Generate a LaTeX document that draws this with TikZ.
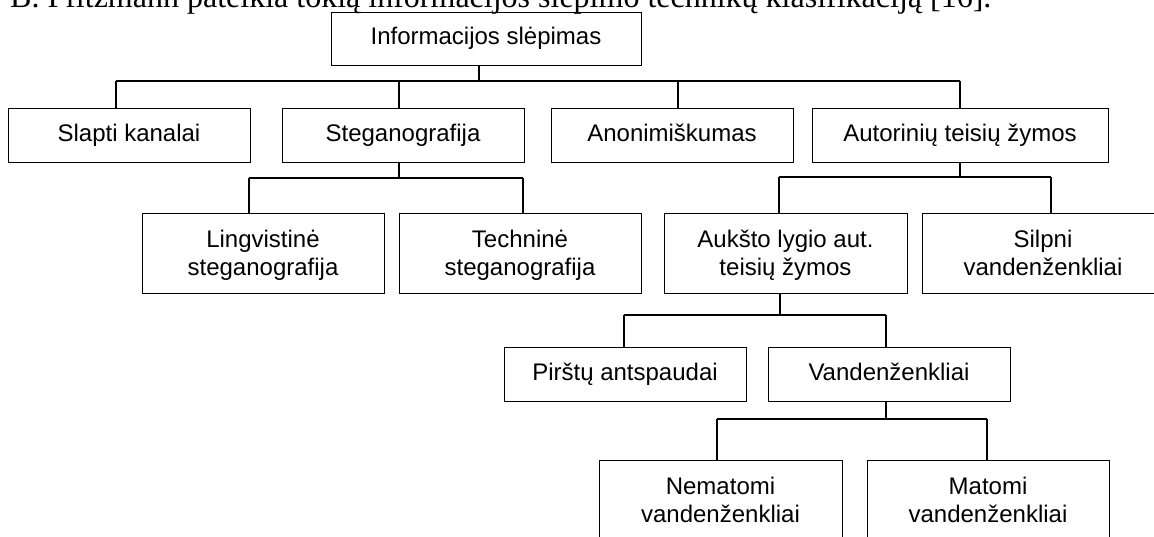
\documentclass[tikz,border=0pt]{standalone}
\usepackage{fontspec}
\setmainfont{Liberation Serif}
\newfontfamily\boxfont{Liberation Sans}
\begin{document}
\begin{tikzpicture}[x=1pt,y=-1pt,
  box/.style={draw, rectangle, line width=1pt, inner sep=0pt, align=center,
    font=\boxfont\fontsize{24}{28.5}\selectfont},
  oneline/.style={box, text height=17pt, text depth=4.5pt, minimum height=54pt},
  twoline/.style={box, text height=45.5pt, text depth=0.4pt, minimum height=80pt},
  link/.style={line width=1.3pt}]
\useasboundingbox (0,0) rectangle (1154,536);
\clip (0,0) rectangle (1154,536);

% lead-in sentence of the page, cut by the top edge
\node[anchor=base west, inner sep=0pt, font=\fontsize{32}{38}\selectfont] (intro) at (10,7)
  {B. Pfitzmann pateikia tokią informacijos slėpimo technikų klasifikaciją [16].};

% root
\node[oneline, minimum width=310pt, minimum height=53pt] (A) at (486,38.5) {Informacijos slėpimas};

% second level
\node[oneline, minimum width=242pt] (S1) at (129,135) {Slapti kanalai};
\node[oneline, minimum width=242pt] (S2) at (403,135) {Steganografija};
\node[oneline, minimum width=242pt] (S3) at (672,135) {Anonimiškumas};
\node[oneline, minimum width=296pt] (S4) at (960,135) {Autorinių teisių žymos};

% third level
\node[twoline, minimum width=242pt] (T1) at (263,253) {Lingvistinė\\steganografija};
\node[twoline, minimum width=242pt] (T2) at (520,253) {Techninė\\steganografija};
\node[twoline, minimum width=243pt] (T3) at (785.5,253) {Aukšto lygio aut.\\teisių žymos};
\node[twoline, minimum width=242pt] (T4) at (1043,253) {Silpni\\vandenženkliai};

% fourth level
\node[oneline, minimum width=242pt] (F1) at (625,374) {Pirštų antspaudai};
\node[oneline, minimum width=242pt] (F2) at (889,374) {Vandenženkliai};

% fifth level
\node[twoline, minimum width=243pt] (G1) at (720.5,500) {Nematomi\\vandenženkliai};
\node[twoline, minimum width=242pt] (G2) at (988,500) {Matomi\\vandenženkliai};

% bus junctions
\coordinate (jA) at (479,81);
\coordinate (jA1) at (116,81);
\coordinate (jA2) at (399,81);
\coordinate (jA3) at (678,81);
\coordinate (jA4) at (960,81);

\coordinate (jS) at (399,178);
\coordinate (jS1) at (249,178);
\coordinate (jS2) at (523,178);

\coordinate (jR) at (960,177);
\coordinate (jR1) at (779,177);
\coordinate (jR2) at (1051,177);

\coordinate (jH) at (780,315);
\coordinate (jH1) at (624,315);
\coordinate (jH2) at (886,315);

\coordinate (jW) at (886,419);
\coordinate (jW1) at (717,419);
\coordinate (jW2) at (987,419);

% connectors
\draw[link] (A.south -| jA) -- (jA);
\draw[link] (jA1) -- (jA4);
\draw[link] (jA1) -- (S1.north -| jA1);
\draw[link] (jA2) -- (S2.north -| jA2);
\draw[link] (jA3) -- (S3.north -| jA3);
\draw[link] (jA4) -- (S4.north -| jA4);

\draw[link] (S2.south -| jS) -- (jS);
\draw[link] (jS1) -- (jS2);
\draw[link] (jS1) -- (T1.north -| jS1);
\draw[link] (jS2) -- (T2.north -| jS2);

\draw[link] (S4.south -| jR) -- (jR);
\draw[link] (jR1) -- (jR2);
\draw[link] (jR1) -- (T3.north -| jR1);
\draw[link] (jR2) -- (T4.north -| jR2);

\draw[link] (T3.south -| jH) -- (jH);
\draw[link] (jH1) -- (jH2);
\draw[link] (jH1) -- (F1.north -| jH1);
\draw[link] (jH2) -- (F2.north -| jH2);

\draw[link] (F2.south -| jW) -- (jW);
\draw[link] (jW1) -- (jW2);
\draw[link] (jW1) -- (G1.north -| jW1);
\draw[link] (jW2) -- (G2.north -| jW2);
\end{tikzpicture}
\end{document}
